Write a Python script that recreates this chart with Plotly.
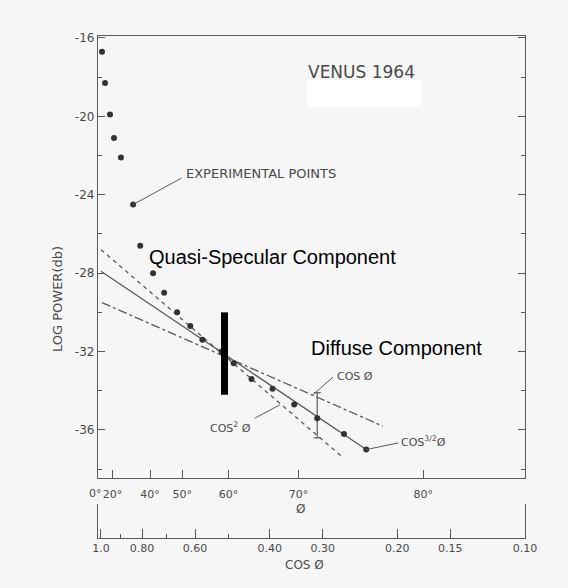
import numpy as np
import plotly.graph_objects as go

# ---------------- data ----------------
theta_deg = [6.0, 12.0, 17.8, 21.3, 26.2, 32.9, 36.1, 41.1, 44.8, 48.6,
             52.0, 54.8, 58.7, 60.9, 63.8, 66.8, 69.5, 72.0, 74.5, 76.3]
power_db = [-16.7, -18.3, -19.9, -21.1, -22.1, -24.5, -26.6, -28.0, -29.0, -30.0,
            -30.7, -31.4, -32.0, -32.6, -33.4, -33.9, -34.7, -35.4, -36.2, -37.0]

# scattering-law lines: cos, cos^3/2, cos^2 (end points)
law_labels = ["cos", "cos^3/2", "cos^2"]
law_theta_start = [6.0, 0.0, 0.0]
law_theta_end = [77.5, 76.3, 74.4]
law_db_start = [-29.5, -27.9, -26.8]
law_db_end = [-35.8, -37.0, -37.4]

# spread bar at 72 deg
spread_theta = [72.0, 72.0]
spread_db = [-34.1, -36.4]

# thick overlay bar
bar_theta = [59.25, 59.25]
bar_db = [-30.0, -34.2]

theta_ticks = [20, 40, 50, 60, 70, 80]
theta_labels = ["20°", "40°", "50°", "60°", "70°", "80°"]
cos_ticks = [1.0, 0.8, 0.6, 0.4, 0.3, 0.2, 0.15, 0.1]
cos_labels = ["1.0", "0.80", "0.60", "0.40", "0.30", "0.20", "0.15", "0.10"]
cos_minor = [0.9, 0.7, 0.5]
db_ticks = [-16, -20, -24, -28, -32, -36]
db_labels = ["-16", "-20", "-24", "-28", "-32", "-36"]


def cosd(a):
    return list(np.cos(np.radians(np.asarray(a, dtype=float))))


W, H = 568, 588
INK = "#4a4a4a"
LINE = "#5a5a5a"
FONT = "DejaVu Sans"
BG = "#f6f6f6"

fig = go.Figure()

dashes = ["dashdot", "solid", "4px,4px"]
for i in range(3):
    fig.add_trace(go.Scatter(
        x=cosd([law_theta_start[i], law_theta_end[i]]),
        y=[law_db_start[i], law_db_end[i]],
        mode="lines", line=dict(color=LINE, width=1.3, dash=dashes[i]),
        showlegend=False, hoverinfo="skip"))

fig.add_trace(go.Scatter(
    x=cosd(spread_theta), y=spread_db, mode="lines+markers",
    line=dict(color=LINE, width=1.2),
    marker=dict(symbol="line-ew", size=5, line=dict(color=LINE, width=1.2)),
    showlegend=False, hoverinfo="skip"))

fig.add_trace(go.Scatter(
    x=cosd(theta_deg), y=power_db, mode="markers",
    marker=dict(color="#333333", size=6, symbol="circle"),
    showlegend=False))

# leader lines (cos value, dB)
leaders = [
    ([0.840, 0.646], [-24.5, -23.15]),
    ([0.3162, 0.2836], [-34.2, -33.3]),
    ([0.4339, 0.3787], [-35.4, -34.72]),
    ([0.237, 0.199], [-37.0, -36.66]),
]
for lx, ly in leaders:
    fig.add_trace(go.Scatter(x=lx, y=ly, mode="lines",
                             line=dict(color=LINE, width=1),
                             showlegend=False, hoverinfo="skip"))

fig.add_trace(go.Scatter(
    x=cosd(bar_theta), y=bar_db, mode="lines",
    line=dict(color="black", width=7), showlegend=False, hoverinfo="skip"))

# invisible trace to activate the cos-scale bracket axis
fig.add_trace(go.Scatter(x=[1.0, 0.1], y=[0, 1], xaxis="x2", yaxis="y2",
                         mode="markers", marker=dict(opacity=0),
                         showlegend=False, hoverinfo="skip"))

xl, xr = 98 / W, 525 / W
xrange = [0.007, -1.0]

fig.update_layout(
    width=W, height=H, autosize=False,
    margin=dict(l=0, r=0, t=0, b=0, pad=0, autoexpand=False),
    paper_bgcolor=BG, plot_bgcolor=BG,
    font=dict(family=FONT, color=INK, size=11),
    xaxis=dict(type="log", range=xrange, domain=[xl, xr], automargin=False,
               tickmode="array", tickvals=cosd(theta_ticks), ticktext=theta_labels,
               ticks="inside", ticklen=8, tickcolor=LINE, tickangle=0,
               ticklabelstandoff=6,
               showline=True, linecolor=LINE, linewidth=1.3, mirror=True,
               showgrid=False, zeroline=False,
               tickfont=dict(size=11, color=INK)),
    yaxis=dict(range=[-38.45, -15.9], domain=[1 - 478 / H, 1 - 36 / H], automargin=False,
               tickmode="array", tickvals=db_ticks, ticktext=db_labels,
               ticks="inside", ticklen=7, tickcolor=LINE,
               minor=dict(dtick=2, ticks="inside", ticklen=4, tickcolor=LINE),
               showline=True, linecolor=LINE, linewidth=1.3, mirror="ticks",
               showgrid=False, zeroline=False,
               tickfont=dict(size=12, color=INK)),
    xaxis2=dict(type="log", range=xrange, domain=[xl, xr], anchor="y2", automargin=False,
                tickmode="array", tickvals=cos_ticks, ticktext=cos_labels,
                ticks="inside", ticklen=9, tickcolor=LINE, tickangle=0,
                minor=dict(tickmode="array", tickvals=cos_minor, ticks="inside",
                           ticklen=4, tickcolor=LINE),
                showline=True, linecolor=LINE, linewidth=1.3,
                showgrid=False, zeroline=False,
                tickfont=dict(size=11, color=INK)),
    yaxis2=dict(range=[0, 1], domain=[1 - 538 / H, 1 - 504 / H], anchor="x2",
                automargin=False,
                showline=True, linecolor=LINE, linewidth=1.3, mirror=True,
                showticklabels=False, ticks="", showgrid=False, zeroline=False),
    showlegend=False,
)

# white patch under the title
fig.add_shape(type="rect", xref="paper", yref="paper",
              x0=307 / W, x1=422 / W, y0=1 - 107 / H, y1=1 - 80 / H,
              fillcolor="white", line=dict(width=0), layer="above")


def ann(text, c, db, size=11, xanchor="left", color=INK, family=FONT):
    fig.add_annotation(x=float(np.log10(c)), y=db, xref="x", yref="y",
                       text=text, showarrow=False, xanchor=xanchor,
                       yanchor="middle", font=dict(size=size, color=color, family=family))


ann("VENUS 1964", 0.2432, -17.73, size=17, xanchor="center")
ann("EXPERIMENTAL POINTS", 0.636, -22.94, size=13)
ann("COS Ø", 0.2800, -33.25, size=11)
ann("COS<sup>2</sup> Ø", 0.4386, -35.85, size=11, xanchor="right")
ann("COS<sup>3/2</sup>Ø", 0.198, -36.6, size=11)
ann("Quasi-Specular Component", 0.778, -27.17, size=20, color="black",
    family="Liberation Sans")
ann("Diffuse Component", 0.323, -31.82, size=20, color="black",
    family="Liberation Sans")


def pann(text, px, py, size=12, angle=0, xanchor="center"):
    fig.add_annotation(x=px / W, y=1 - py / H, xref="paper", yref="paper",
                       text=text, textangle=angle, showarrow=False,
                       xanchor=xanchor, yanchor="middle",
                       font=dict(size=size, color=INK))


pann("0°", 103.5, 493, size=11, xanchor="right")
pann("LOG POWER(db)", 57, 299, size=13, angle=-90)
pann("Ø", 300, 509, size=12)
pann("COS Ø", 304, 565, size=12)

fig.write_html("out.html")
